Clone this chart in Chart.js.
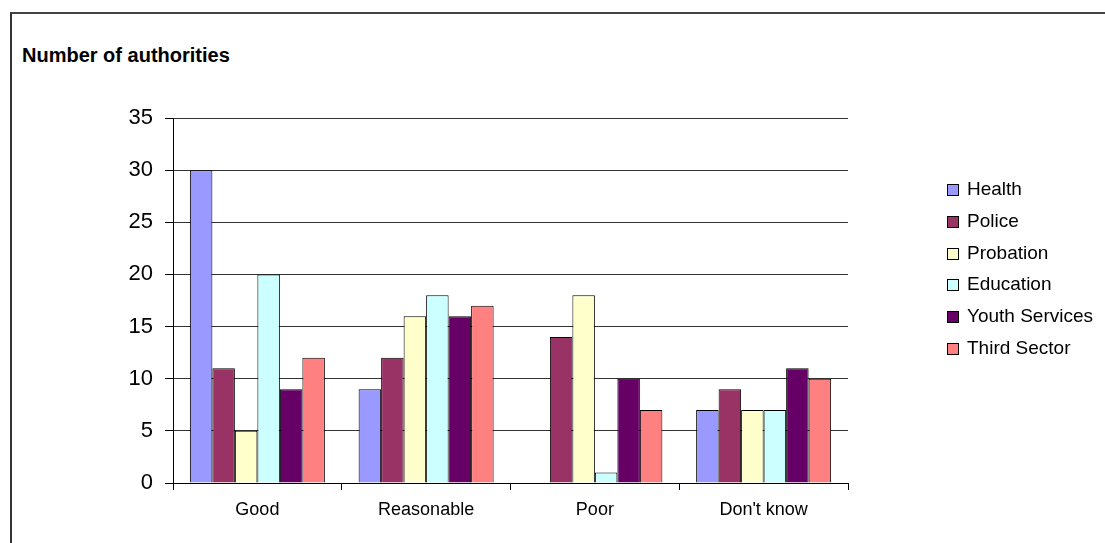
<!DOCTYPE html>
<html>
<head>
<meta charset="utf-8">
<script src="https://cdn.jsdelivr.net/npm/chart.js@4/dist/chart.umd.min.js"></script>
<style>
  html, body { margin: 0; padding: 0; background: #fff; overflow: hidden; }
  body { width: 1105px; height: 543px; position: relative; font-family: Arial, "Liberation Sans", sans-serif; }
  #frame { position: absolute; left: 10px; top: 12px; width: 1100px; height: 540px;
           border-left: 2px solid #333; border-top: 2px solid #444; }
  #title { position: absolute; left: 22px; top: 44px; font-size: 20px; line-height: 23px; font-weight: bold; color: #000; }
  #wrap { position: absolute; left: 0; top: 0; width: 1105px; height: 543px; }
  #legend { position: absolute; left: 947px; top: 178px; font-size: 19px; line-height: 22px; color: #000; }
  #legend div { height: 31.8px; display: flex; align-items: flex-start; white-space: nowrap; }
  #legend span.box { display: inline-block; width: 10px; height: 10px; border: 1px solid #000;
                     margin-right: 8px; margin-top: 6px; }
</style>
</head>
<body>
<div id="frame"></div>
<div id="title">Number of authorities</div>
<div id="wrap"><canvas id="graphique" width="1105" height="543"></canvas></div>
<div id="legend"></div>
<script>
// Données
const categories = ['Good', 'Reasonable', 'Poor', "Don't know"];
const health = [30, 9, 0, 7];
const police = [11, 12, 14, 9];
const probation = [5, 16, 18, 7];
const education = [20, 18, 1, 7];
const youthServices = [9, 16, 10, 11];
const thirdSector = [12, 17, 7, 10];
const yTicks = [0, 5, 10, 15, 20, 25, 30, 35];

const series = [
  { label: 'Health', data: health, color: '#9999FF' },
  { label: 'Police', data: police, color: '#993366' },
  { label: 'Probation', data: probation, color: '#FFFFCC' },
  { label: 'Education', data: education, color: '#CCFFFF' },
  { label: 'Youth Services', data: youthServices, color: '#660066' },
  { label: 'Third Sector', data: thirdSector, color: '#FF8080' }
];

const ctx = document.getElementById('graphique').getContext('2d');
const chart = new Chart(ctx, {
  type: 'bar',
  data: {
    labels: categories,
    datasets: series.map(s => ({
      label: s.label,
      data: s.data,
      backgroundColor: s.color,
      borderColor: '#000',
      borderWidth: 1,
      categoryPercentage: 0.8,
      barPercentage: 1.0
    }))
  },
  options: {
    responsive: false,
    animation: false,
    layout: { padding: { left: 0, top: 118, right: 257, bottom: 0 } },
    plugins: { legend: { display: false }, tooltip: { enabled: false } },
    scales: {
      x: {
        offset: true,
        grid: { offset: true, drawOnChartArea: false, drawTicks: true, tickLength: 7, color: '#000' },
        border: { color: '#000', width: 1 },
        ticks: { color: '#000', padding: 9, maxRotation: 0, font: { family: 'Arial, "Liberation Sans"', size: 18 } },
        afterFit: s => { s.height = 60; }
      },
      y: {
        min: 0, max: 35,
        afterBuildTicks: s => { s.ticks = yTicks.map(v => ({ value: v })); },
        grid: { color: '#333', tickLength: 8, tickColor: '#000' },
        border: { color: '#000', width: 1 },
        ticks: { color: '#000', padding: 12, font: { family: 'Arial, "Liberation Sans"', size: 22 } },
        afterFit: s => { s.width = 173; }
      }
    }
  }
});

// Légende HTML construite depuis les datasets
const legend = document.getElementById('legend');
chart.data.datasets.forEach(ds => {
  const row = document.createElement('div');
  row.innerHTML = '<span class="box" style="background:' + ds.backgroundColor + '"></span>' + ds.label;
  legend.appendChild(row);
});
</script>
</body>
</html>
